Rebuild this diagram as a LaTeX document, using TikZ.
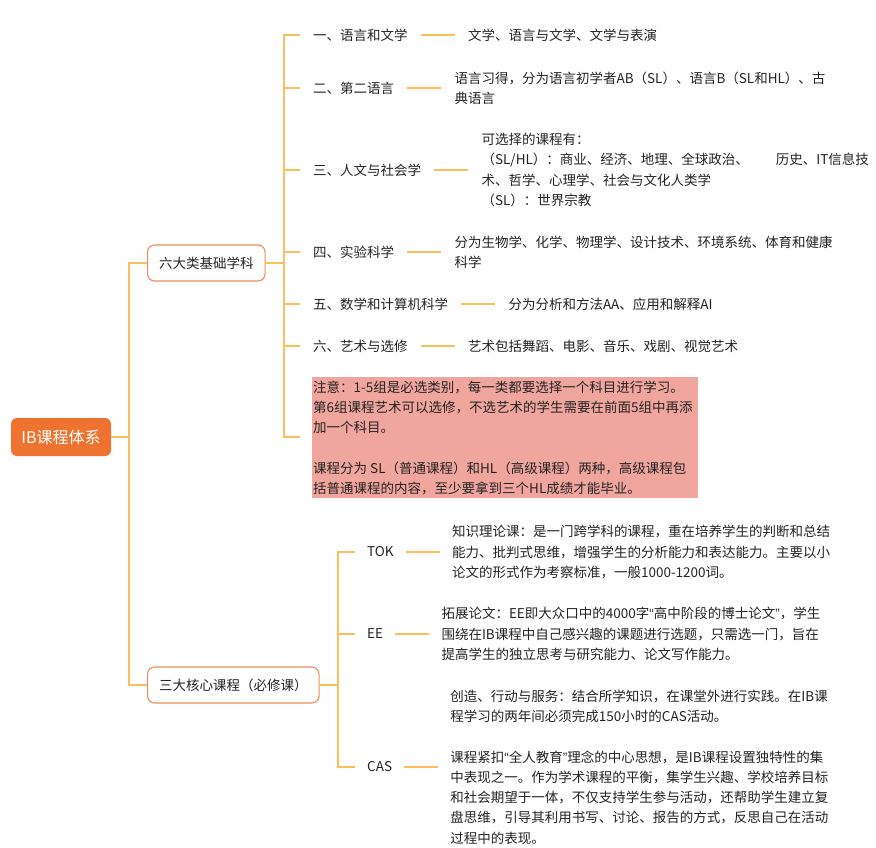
\documentclass[tikz,border=0pt]{standalone}
\usepackage{fontspec}
\setmainfont{Noto Sans CJK SC}
\newfontfamily\cjkfont{Noto Sans CJK SC}
\newfontfamily\latinf{Liberation Sans}
\newcommand{\lqm}{{\latinf “}}
\newcommand{\rqm}{{\latinf ”}}
\usetikzlibrary{positioning}
\definecolor{lineC}{RGB}{253,190,92}
\definecolor{rootC}{RGB}{238,115,48}
\definecolor{boxC}{RGB}{240,138,88}
\definecolor{noteC}{RGB}{241,166,157}
\definecolor{txtC}{RGB}{35,35,35}
\begin{document}
\begin{tikzpicture}[x=1pt,y=-1pt,
  conn/.style={draw=lineC, line width=1.8pt},
  rootnode/.style={fill=rootC, draw=none, rounded corners=6pt, minimum width=100pt, minimum height=38pt,
     text=white, font=\cjkfont\fontsize{16pt}{20pt}\selectfont, inner sep=0pt},
  topicbox/.style={draw=boxC, fill=white, line width=1.1pt, rounded corners=7pt, minimum height=36pt,
     inner xsep=11.5pt, anchor=west, text=txtC, font=\cjkfont\fontsize{13.5pt}{20pt}\selectfont},
  leaf/.style={anchor=west, inner xsep=13pt, inner ysep=0pt, align=left, text=txtC,
     font=\cjkfont\fontsize{13.5pt}{20.3pt}\selectfont},
  coreleaf/.style={leaf, inner xsep=12pt},
  notebg/.style={fill=noteC, draw=none, anchor=north west, minimum width=386pt, minimum height=121pt, inner sep=0pt}
]
\useasboundingbox (0,0) rectangle (876,847);

% root and main topics
\node[rootnode] (root) at (61,437) {IB课程体系};
\node[topicbox] (six) at (147,263) {六大类基础学科};
\node[topicbox] (core) at (147,685) {三大核心课程（必修课）};

\draw[conn] (root.east) -- ++(18,0) |- (six.west);
\draw[conn] (root.east) -- ++(18,0) |- (core.west);

% six subject groups
\node[leaf] (s1) at (300,35) {一、语言和文学};
\node[leaf] (s2) at (300,88) {二、第二语言};
\node[leaf] (s3) at (300,170) {三、人文与社会学};
\node[leaf] (s4) at (300,252) {四、实验科学};
\node[leaf] (s5) at (300,304) {五、数学和计算机科学};
\node[leaf] (s6) at (300,346) {六、艺术与选修};
\coordinate (nt) at (300,437);

\node[leaf, right=34pt of s1] (d1) {文学、语言与文学、文学与表演};
\node[leaf, right=34pt of s2] (d2) {语言习得，分为语言初学者AB（SL）、语言B（SL和HL）、古\\典语言};
\node[leaf, right=34pt of s3] (d3) {可选择的课程有：\\（SL/HL）：商业、经济、地理、全球政治、\hspace{2em}历史、IT信息技\\术、哲学、心理学、社会与文化人类学\\（SL）：世界宗教};
\node[leaf, right=34pt of s4] (d4) {分为生物学、化学、物理学、设计技术、环境系统、体育和健康\\科学};
\node[leaf, right=34pt of s5] (d5) {分为分析和方法AA、应用和解释AI};
\node[leaf, right=34pt of s6] (d6) {艺术包括舞蹈、电影、音乐、戏剧、视觉艺术};

\node[notebg] (notebox) at (312,377) {};
\node[leaf, inner xsep=1pt] (note) at (312,438) {注意：1-5组是必选类别，每一类都要选择一个科目进行学习。\\第6组课程艺术可以选修，不选艺术的学生需要在前面5组中再添\\加一个科目。\\[20.3pt]课程分为 SL（普通课程）和HL（高级课程）两种，高级课程包\\括普通课程的内容，至少要拿到三个HL成绩才能毕业。};

\foreach \n in {s1,s2,s3,s4,s5,s6}{
  \draw[conn] (six.east) -- ++(18,0) |- (\n.west);
}
\draw[conn] (six.east) -- ++(18,0) |- (nt);
\foreach \n in {1,...,6}{
  \draw[conn] (s\n.east) -- (d\n.west);
}

% core courses
\node[coreleaf] (tok) at (355,552) {TOK};
\node[coreleaf] (ee) at (355,634) {EE};
\node[coreleaf] (cas) at (355,767) {CAS};

\node[coreleaf, right=34pt of tok] (dtok) {知识理论课：是一门跨学科的课程，重在培养学生的判断和总结\\能力、批判式思维，增强学生的分析能力和表达能力。主要以小\\论文的形式作为考察标准，一般1000-1200词。};
\node[coreleaf, right=34pt of ee] (dee) {拓展论文：EE即大众口中的4000字\lqm 高中阶段的博士论文\rqm ，学生\\围绕在IB课程中自己感兴趣的课题进行选题，只需选一门，旨在\\提高学生的独立思考与研究能力、论文写作能力。};
\node[coreleaf, right=34pt of cas] (dcas) {创造、行动与服务：结合所学知识，在课堂外进行实践。在IB课\\程学习的两年间必须完成150小时的CAS活动。\\[20.3pt]课程紧扣\lqm 全人教育\rqm 理念的中心思想，是IB课程设置独特性的集\\中表现之一。作为学术课程的平衡，集学生兴趣、学校培养目标\\和社会期望于一体，不仅支持学生参与活动，还帮助学生建立复\\盘思维，引导其利用书写、讨论、报告的方式，反思自己在活动\\过程中的表现。};

\foreach \n in {tok,ee,cas}{
  \draw[conn] (core.east) -- ++(18,0) |- (\n.west);
}
\draw[conn] (tok.east) -- (dtok.west);
\draw[conn] (ee.east) -- (dee.west);
\draw[conn] (cas.east) -- (dcas.west);
\end{tikzpicture}
\end{document}
